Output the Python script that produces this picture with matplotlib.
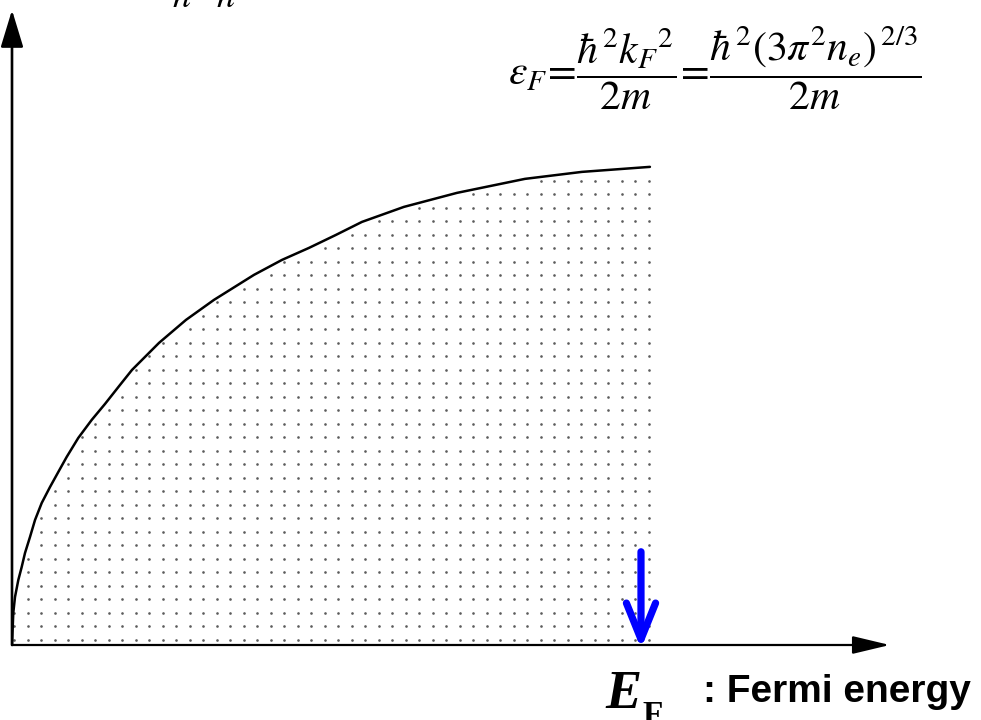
import numpy as np
import matplotlib
matplotlib.use("Agg")
import matplotlib.pyplot as plt

plt.rcParams["mathtext.fontset"] = "stix"

# Density of states curve (arbitrary units, E_F region ends at E = 100)
energy = [0, 0.20, 0.47, 0.99, 1.52, 2.04, 2.82, 3.61, 4.66, 5.96, 7.26,
          8.57, 10.39, 12.49, 14.58, 16.93, 18.81, 23.04, 27.27, 31.66,
          37.93, 42.32, 46.55, 50.78, 54.86, 61.44, 69.75, 80.41, 89.34,
          100.0]
dos = [0, 6.69, 10.04, 13.60, 16.32, 19.25, 22.59, 26.15, 29.71, 33.05,
       36.19, 39.33, 43.31, 47.07, 50.42, 54.39, 57.53, 63.18, 67.99, 72.18,
       77.41, 80.54, 83.05, 85.77, 88.49, 91.63, 94.56, 97.49, 98.95, 100.0]
fermi_level = 98.6
formula = (r"$\varepsilon_F\!=\!\dfrac{\hbar^2 k_F{}^2}{2m}"
           r"\!=\!\dfrac{\hbar^2(3\pi^2 n_e)^{\,2/3}}{2m}$")

fig = plt.figure(figsize=(9.81, 7.2), dpi=100)
ax = fig.add_axes([12 / 981, 75 / 720, 1 - 12 / 981, 1 - 75 / 720])
ax.set_xlim(0, 151.9)
ax.set_ylim(0, 134.9)
ax.axis("off")

# dotted shading for the occupied states
gx = np.arange(99.84, 0.3, -2.116)
gy = np.arange(1.05, 101, 2.824)
X, Y = np.meshgrid(gx, gy)
inside = Y <= np.interp(X, energy, dos) - 0.6
ax.scatter(X[inside], Y[inside], s=3.6, marker="o", color="#333333",
           linewidths=0, alpha=0.8, clip_on=False)

ax.plot(energy, dos, color="black", lw=1.8, solid_capstyle="round",
        solid_joinstyle="round")

# axes with arrow heads
ax.annotate("", xy=(0, 132.8), xytext=(0, 0),
            arrowprops=dict(arrowstyle="-|>,head_length=2.3,head_width=0.7",
                            color="black", lw=1.9, shrinkA=0, shrinkB=0),
            annotation_clip=False)
ax.annotate("", xy=(137.6, 0), xytext=(0, 0),
            arrowprops=dict(arrowstyle="-|>,head_length=2.3,head_width=0.55",
                            color="black", lw=1.6, shrinkA=0, shrinkB=0),
            annotation_clip=False)

# Fermi level marker
ax.annotate("", xy=(fermi_level, -0.8), xytext=(fermi_level, 19.5),
            arrowprops=dict(arrowstyle="->,head_length=2.6,head_width=1.05",
                            color="#0000ff", lw=5.2, shrinkA=0, shrinkB=0,
                            capstyle="round", joinstyle="round"),
            annotation_clip=False)

fig.text(715 / 981, 1 - 68 / 720, formula, fontsize=30, ha="center",
         va="center")

fig.text(172 / 981, 1 - 7 / 720, r"$n\quad n$", fontsize=26, ha="left",
         va="baseline")

fig.text(605 / 981, 1 - 708 / 720, "E", fontsize=39, fontweight="bold",
         fontstyle="italic", family="Liberation Serif", va="baseline")
fig.text(642 / 981, 1 - 724 / 720, "F", fontsize=24, fontweight="bold",
         family="Liberation Serif", va="baseline")
fig.text(703 / 981, 1 - 702 / 720, ": Fermi energy", fontsize=28,
         fontweight="bold", family="Liberation Sans", va="baseline")

fig.savefig("out.png", dpi=100)
